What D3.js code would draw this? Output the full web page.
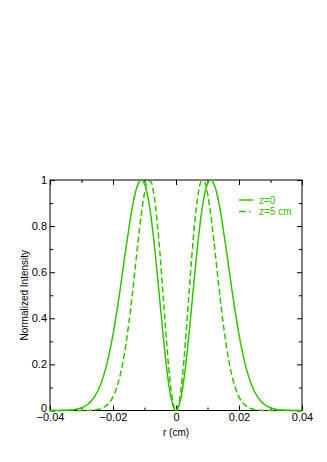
<!DOCTYPE html>
<html>
<head>
<meta charset="utf-8">
<script src="https://cdn.jsdelivr.net/npm/d3@7"></script>
<style>
  body { margin: 0; background: #fff; }
  svg { display: block; font-family: "Liberation Sans", Arial, sans-serif; }
</style>
</head>
<body>
<div id="chart"></div>
<script>
// radius r (cm), read at 0.001 cm steps
const rValues = d3.range(-40, 41).map(i => i / 1000);

// z = 0 (solid)
const intensityZ0 = [
  0.0001, 0.0001, 0.0002, 0.0004, 0.0007, 0.0011, 0.0018, 0.0030, 0.0049, 0.0077,
  0.0119, 0.0181, 0.0270, 0.0396, 0.0569, 0.0802, 0.1108, 0.1502, 0.1991, 0.2588,
  0.3296, 0.4105, 0.5002, 0.5959, 0.6933, 0.7873, 0.8715, 0.9393, 0.9840, 1.0000,
  0.9834, 0.9318, 0.8473, 0.7343, 0.6007, 0.4568, 0.3149, 0.1877, 0.0870, 0.0223,
  0.0000,
  0.0223, 0.0870, 0.1877, 0.3149, 0.4568, 0.6007, 0.7343, 0.8473, 0.9318, 0.9834,
  1.0000, 0.9840, 0.9393, 0.8715, 0.7873, 0.6933, 0.5959, 0.5002, 0.4105, 0.3296,
  0.2588, 0.1991, 0.1502, 0.1108, 0.0802, 0.0569, 0.0396, 0.0270, 0.0181, 0.0119,
  0.0077, 0.0049, 0.0030, 0.0018, 0.0011, 0.0007, 0.0004, 0.0002, 0.0001, 0.0001
];

// z = 5 cm (dashed)
const intensityZ5 = [
  0.0000, 0.0000, 0.0000, 0.0000, 0.0000, 0.0000, 0.0000, 0.0000, 0.0000, 0.0000,
  0.0001, 0.0003, 0.0005, 0.0011, 0.0022, 0.0041, 0.0075, 0.0132, 0.0224, 0.0370,
  0.0590, 0.0918, 0.1377, 0.1991, 0.2785, 0.3760, 0.4894, 0.6131, 0.7383, 0.8530,
  0.9426, 0.9933, 0.9930, 0.9358, 0.8231, 0.6655, 0.4825, 0.2990, 0.1424, 0.0371,
  0.0000,
  0.0371, 0.1424, 0.2990, 0.4825, 0.6655, 0.8231, 0.9358, 0.9930, 0.9933, 0.9426,
  0.8530, 0.7383, 0.6131, 0.4894, 0.3760, 0.2785, 0.1991, 0.1377, 0.0918, 0.0590,
  0.0370, 0.0224, 0.0132, 0.0075, 0.0041, 0.0022, 0.0011, 0.0005, 0.0003, 0.0001,
  0.0000, 0.0000, 0.0000, 0.0000, 0.0000, 0.0000, 0.0000, 0.0000, 0.0000, 0.0000
];

const seriesNames = ['z=0', 'z=5 cm'];
const xTicks = [-0.04, -0.02, 0, 0.02, 0.04];
const yTicks = [0, 0.2, 0.4, 0.6, 0.8, 1];

const width = 327, height = 462;
const margin = { top: 180, right: 25, bottom: 51.5, left: 50 };
const green = '#33c000';

const svg = d3.select('#chart').append('svg')
  .attr('width', width)
  .attr('height', height);

const x = d3.scaleLinear().domain([-0.04, 0.04]).range([margin.left, width - margin.right]);
const y = d3.scaleLinear().domain([0, 1]).range([height - margin.bottom, margin.top]);

const fmt = d => d === 0 ? '0' : d3.format('')(+d.toFixed(2));

// axes: ticks point inward on all four sides
const tickLen = 5, minorLen = 3;
const xMinor = d3.range(-0.03, 0.031, 0.02).map(v => +v.toFixed(3));
const yMinor = d3.range(0.1, 1, 0.2).map(v => +v.toFixed(2));

function addAxis(axis, tx, ty) {
  const g = svg.append('g').attr('transform', `translate(${tx},${ty})`).call(axis);
  g.select('.domain').remove();
  g.selectAll('.tick line').attr('stroke', '#000');
  g.selectAll('text').attr('fill', '#000').attr('font-size', 11);
  return g;
}

// bottom
addAxis(d3.axisBottom(x).tickValues(xTicks).tickSize(-tickLen).tickPadding(3).tickFormat(fmt), 0, y(0));
addAxis(d3.axisBottom(x).tickValues(xMinor).tickSize(-minorLen).tickFormat(''), 0, y(0));
// top
addAxis(d3.axisTop(x).tickValues(xTicks).tickSize(-tickLen).tickFormat(''), 0, y(1));
addAxis(d3.axisTop(x).tickValues(xMinor).tickSize(-minorLen).tickFormat(''), 0, y(1));
// left
const yAxisG = addAxis(d3.axisLeft(y).tickValues(yTicks).tickSize(-tickLen).tickPadding(3).tickFormat(fmt), x(-0.04), 0);
// lift the "0" a little so it clears the -0.04 label
yAxisG.selectAll('.tick').filter(d => d === 0).select('text').attr('dy', '0.1em');
addAxis(d3.axisLeft(y).tickValues(yMinor).tickSize(-minorLen).tickFormat(''), x(-0.04), 0);
// right
addAxis(d3.axisRight(y).tickValues(yTicks).tickSize(-tickLen).tickFormat(''), x(0.04), 0);
addAxis(d3.axisRight(y).tickValues(yMinor).tickSize(-minorLen).tickFormat(''), x(0.04), 0);

// frame
svg.append('rect')
  .attr('x', x(-0.04)).attr('y', y(1))
  .attr('width', x(0.04) - x(-0.04)).attr('height', y(0) - y(1))
  .attr('fill', 'none').attr('stroke', '#000').attr('stroke-width', 1);

// curves
const line = d3.line()
  .x((d, i) => x(rValues[i]))
  .y(d => y(d))
  .curve(d3.curveMonotoneX);

const plot = svg.append('g');
plot.append('path')
  .datum(intensityZ0)
  .attr('d', line)
  .attr('fill', 'none')
  .attr('stroke', green)
  .attr('stroke-width', 1.5);

plot.append('path')
  .datum(intensityZ5)
  .attr('d', line)
  .attr('fill', 'none')
  .attr('stroke', green)
  .attr('stroke-width', 1.5)
  .attr('stroke-dasharray', '6,3');

// axis titles
svg.append('text')
  .attr('x', x(0)).attr('y', 436)
  .attr('text-anchor', 'middle')
  .attr('font-size', 10)
  .text('r (cm)');

svg.append('text')
  .attr('transform', `translate(28,${(y(0) + y(1)) / 2}) rotate(-90)`)
  .attr('text-anchor', 'middle')
  .attr('font-size', 10)
  .text('Normalized Intensity');

// legend
const legend = svg.append('g');
seriesNames.forEach((name, i) => {
  const ly = 200 + i * 11.5;
  legend.append('line')
    .attr('x1', 239).attr('x2', 253)
    .attr('y1', ly).attr('y2', ly)
    .attr('stroke', green)
    .attr('stroke-width', 1.5)
    .attr('stroke-dasharray', i === 1 ? '7,3,1.5,3' : null);
  legend.append('text')
    .attr('x', 259).attr('y', ly + 3.5)
    .attr('font-size', 10)
    .attr('fill', green)
    .text(name);
});
</script>
</body>
</html>
